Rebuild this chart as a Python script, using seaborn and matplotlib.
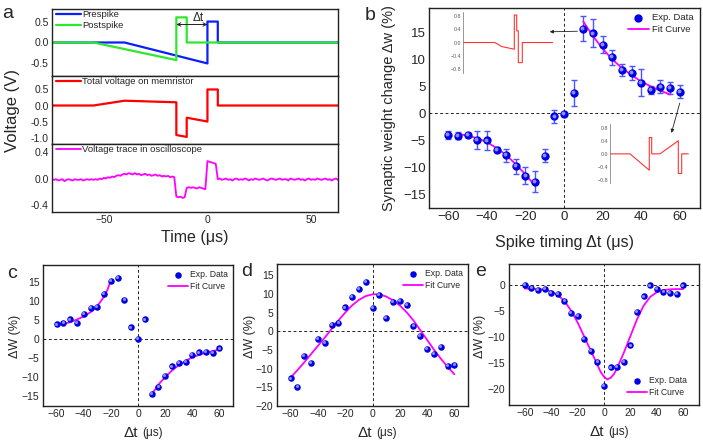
import numpy as np
import matplotlib
matplotlib.use("Agg")
import matplotlib.pyplot as plt
import matplotlib.transforms as mtransforms
from matplotlib.ticker import MultipleLocator, AutoMinorLocator
import seaborn as sns

# ---------------- panel a: pulse shapes ----------------
pre_t = [-75, -40, 0, 0, 5, 5, 63]
pre_v = [0, 0, -0.5, 0.5, 0.5, 0, 0]
post_t = [-75, -55, -15, -15, -10, -10, 63]
post_v = [0, 0, -0.42, 0.6, 0.6, 0, 0]
mem_t = [-75, -55, -40, -15, -15, -10, -10, 0, 0, 5, 5, 63]
mem_v = [0, 0, 0.15, 0.1, -0.92, -0.98, -0.38, -0.5, 0.5, 0.5, 0, 0]
scope_v = [-0.01, -0.02, -0.01, -0.03, -0.02, -0.01, -0.04, -0.02, -0.01, -0.02,
           -0.03, -0.01, -0.02, -0.02, -0.01, -0.03, -0.02, -0.01, -0.02, -0.01,
           -0.02, -0.01, -0.02, 0.0, -0.01, 0.01, 0.0, 0.02, 0.01, 0.03,
           0.02, 0.04, 0.05, 0.04, 0.06,
           0.07, 0.06, 0.08, 0.07, 0.06, 0.08, 0.06, 0.07, 0.05, 0.06,
           0.07, 0.05, 0.06, 0.04, 0.05, 0.06, 0.04, 0.05, 0.03, 0.04,
           0.03, 0.04, 0.02, 0.03, 0.02,
           -0.27, -0.28, -0.27, -0.29, -0.28,
           -0.14, -0.13, -0.14, -0.13, -0.14, -0.15, -0.13, -0.14, -0.15, -0.16,
           0.26, 0.25, 0.24, 0.23, 0.22,
           -0.01, 0.0, -0.02, -0.01, 0.0, -0.02, -0.01, -0.03, -0.01, 0.0,
           -0.02, -0.01, -0.02, 0.0, -0.01, -0.03, -0.01, -0.02, 0.0, -0.01,
           -0.02, -0.01, 0.0, -0.02, -0.03, -0.01, 0.0, -0.01, -0.02, -0.01,
           0.0, -0.02, -0.01, -0.01, -0.03, 0.0, -0.01, -0.02, -0.01, 0.0,
           -0.02, -0.01, -0.03, -0.01, 0.0, -0.02, -0.01, -0.02, 0.0, -0.01,
           -0.02, -0.01, 0.0, -0.02, -0.01, -0.03, -0.01, 0.0, -0.02]
scope_t = np.arange(-75, -75 + len(scope_v))

# ---------------- panel b: STDP with error bars ----------------
dt = [-60, -55, -50, -45, -40, -35, -30, -25, -20, -15, -10, -5, 0,
      5, 10, 15, 20, 25, 30, 35, 40, 45, 50, 55, 60]
b_dw = [-4.0, -4.1, -4.0, -4.9, -5.0, -6.7, -7.7, -9.75, -11.5, -12.6, -7.8, -0.55, -0.1,
        3.85, 15.7, 14.8, 12.7, 10.4, 8.0, 7.5, 5.7, 4.3, 4.9, 4.75, 4.0]
b_err = [0.7, 0.7, 0.45, 1.6, 1.75, 0.4, 1.2, 1.4, 1.5, 1.9, 1.2, 1.2, 0.3,
         2.4, 2.35, 2.6, 1.6, 1.4, 1.1, 1.3, 2.5, 0.7, 1.2, 1.1, 1.2]
b_fit_l_x = [-55, -50, -45, -40, -35, -30, -25, -20, -15]
b_fit_l_y = [-3.8, -4.1, -4.6, -5.3, -6.4, -7.7, -9.4, -11.3, -13.4]
b_fit_r_x = [10, 15, 20, 25, 30, 35, 40, 45, 50, 55]
b_fit_r_y = [17.0, 14.3, 12.0, 10.0, 8.4, 7.1, 5.9, 5.0, 4.2, 3.5]
ins1_x = [0, 32, 38.7, 51.3, 51.3, 53.7, 53.7, 55.3, 55.3, 59.3, 59.3, 90]
ins1_y = [0, 0, -0.12, -0.2, 0.82, 0.82, 0.35, 0.35, -0.6, -0.6, 0, 0]
ins2_x = [0, 20, 39.3, 39.3, 41.7, 41.7, 50, 68.3, 68.3, 71.7, 71.7, 78.3]
ins2_y = [0, 0, -0.5, 0.5, 0.5, 0, 0, 0.4, -0.6, -0.6, 0, 0]

# ---------------- panels c, d, e ----------------
c_dw = [3.9, 4.3, 5.2, 4.4, 6.75, 8.3, 8.4, 12.0, 15.3, 16.1, 10.3, 3.1, 0.2,
        5.2, -14.3, -12.5, -9.7, -7.1, -6.3, -6.0, -4.0, -3.45, -3.2, -3.5, -2.4]
c_fit_l_x = [-60, -55, -50, -45, -40, -35, -30, -25, -22.5, -20]
c_fit_l_y = [3.7, 4.0, 4.5, 5.2, 6.0, 7.1, 8.7, 11.2, 13.0, 15.5]
c_fit_r_x = [10, 15, 20, 25, 30, 35, 40, 45, 50, 55, 60]
c_fit_r_y = [-14.5, -11.9, -9.9, -8.2, -6.8, -5.7, -4.7, -4.1, -3.5, -3.1, -2.7]

d_dw = [-12.6, -15.0, -6.6, -8.5, -2.0, -3.1, 1.8, 2.3, 6.4, 9.3, 11.3, 13.3, 6.2,
        9.8, 3.5, 7.8, 8.2, 7.05, 1.4, -1.25, -4.8, -6.1, -4.3, -9.3, -9.0]
d_fit_y = [-12.4, -10.4, -8.3, -6.1, -3.9, -1.7, 0.6, 2.9, 5.0, 6.9, 8.4, 9.4, 9.9,
           9.9, 9.3, 8.3, 6.9, 5.1, 2.9, 0.3, -2.3, -4.9, -7.3, -9.5, -11.5]

e_dw = [0.0, -0.5, -0.95, -0.7, -1.6, -1.7, -3.0, -5.4, -6.0, -10.3, -12.6, -14.7, -19.4,
        -15.8, -15.75, -14.7, -11.6, -5.25, -2.2, -0.1, -0.8, -1.3, -1.6, -1.8, -0.1]
e_fit_x = [-60, -55, -50, -45, -40, -35, -30, -25, -20, -15, -10, -5, -2.5, 0,
           2.5, 5, 7.5, 10, 15, 20, 25, 30, 35, 40, 45, 50, 55, 60]
e_fit_y = [-0.7, -0.75, -0.8, -0.95, -1.25, -1.95, -3.1, -4.9, -7.2, -9.9, -12.6, -15.3, -16.7, -17.6,
           -18.1, -17.8, -17.1, -15.9, -13.0, -9.8, -6.6, -4.0, -2.3, -1.4, -1.0, -0.85, -0.8, -0.8]

BLUE = "#0a1eff"
GREEN = "#2ee82e"
RED = "#ff0000"
MAG = "#ff00ff"
DOT = "#0000e6"
FRAME = "#222222"

sns.set_theme(style="white")
plt.rcParams["font.family"] = ["Liberation Sans", "DejaVu Sans"]
plt.rcParams["axes.linewidth"] = 1.0

W, H = 703, 445
fig = plt.figure(figsize=(W / 100, H / 100), dpi=100)


def box(l, t, r, b):
    return [l / W, 1 - b / H, (r - l) / W, (b - t) / H]


def style(ax, fs, xmaj=None, ymaj=None):
    ax.tick_params(which="both", direction="in", top=False, right=False,
                   labelsize=fs, width=0.8, color=FRAME, pad=2.5)
    ax.tick_params(which="major", length=3.5)
    ax.tick_params(which="minor", length=2)
    if xmaj:
        ax.xaxis.set_major_locator(MultipleLocator(xmaj))
        ax.xaxis.set_minor_locator(AutoMinorLocator(2))
    if ymaj:
        ax.yaxis.set_major_locator(MultipleLocator(ymaj))
        ax.yaxis.set_minor_locator(AutoMinorLocator(2))
    for s in ax.spines.values():
        s.set_color(FRAME)
        s.set_linewidth(1.0)
    ax.set_xlabel("")
    ax.set_ylabel("")


def dots(ax, x, y, s):
    sns.scatterplot(x=x, y=y, ax=ax, s=s, color=DOT, linewidth=0, zorder=4,
                    label="Exp. Data")
    hl = mtransforms.offset_copy(ax.transData, fig=fig, x=-0.6, y=0.6, units="points")
    sns.scatterplot(x=x, y=y, ax=ax, s=s * 0.22, color="#8c8cff", linewidth=0,
                    zorder=5, transform=hl, legend=False)


def fit(ax, x, y, label=None):
    sns.lineplot(x=x, y=y, ax=ax, color=MAG, lw=1.3, sort=False,
                 estimator=None, label=label, zorder=3)


def zero_lines(ax):
    ax.axhline(0, color="#222222", lw=0.7, ls=(0, (3, 2.5)), zorder=1)
    ax.axvline(0, color="#222222", lw=0.7, ls=(0, (3, 2.5)), zorder=1)


def fit_legend(ax, fs, loc, anchor):
    h, l = ax.get_legend_handles_labels()
    order = [l.index("Exp. Data"), l.index("Fit Curve")]
    ax.legend([h[i] for i in order], [l[i] for i in order], loc=loc,
              bbox_to_anchor=anchor, frameon=False, fontsize=fs,
              handlelength=2.3, handletextpad=0.25, labelspacing=0.3,
              borderaxespad=0, borderpad=0)


# ---------------- panel a ----------------
ax_a1 = fig.add_axes(box(52, 9, 338, 76))
ax_a2 = fig.add_axes(box(52, 76, 338, 144))
ax_a3 = fig.add_axes(box(52, 144, 338, 212))

sns.lineplot(x=pre_t, y=pre_v, ax=ax_a1, color=BLUE, lw=1.6, sort=False,
             estimator=None, label="Prespike")
sns.lineplot(x=post_t, y=post_v, ax=ax_a1, color=GREEN, lw=1.6, sort=False,
             estimator=None, label="Postspike")
sns.lineplot(x=mem_t, y=mem_v, ax=ax_a2, color=RED, lw=1.6, sort=False,
             estimator=None, label="Total voltage on memristor")
sns.lineplot(x=scope_t, y=scope_v, ax=ax_a3, color=MAG, lw=1.3, sort=False,
             estimator=None, label="Voltage trace in oscilloscope")

ax_a1.set_ylim(-0.8, 0.8)
ax_a2.set_ylim(-1.2, 0.92)
ax_a3.set_ylim(-0.5, 0.515)
for ax, ymaj in [(ax_a1, 0.5), (ax_a2, 0.5), (ax_a3, 0.4)]:
    ax.set_xlim(-75, 63)
    style(ax, 7.5, 50, ymaj)
    ax.yaxis.set_major_formatter(plt.FuncFormatter(lambda v, p: f"{v:.1f}"))
    ax.legend(loc="upper left", bbox_to_anchor=(0.015, 0.98), frameon=False,
              fontsize=6.8, handlelength=2.6, handletextpad=0.15,
              labelspacing=0.2, borderaxespad=0, borderpad=0)
for ax in (ax_a1, ax_a2):
    ax.tick_params(axis="x", which="both", bottom=False, labelbottom=False)
ax_a1.annotate("", xy=(0, 0.43), xytext=(-15, 0.43),
               arrowprops=dict(arrowstyle="<->", lw=0.7, color="#222222",
                               shrinkA=0, shrinkB=0, mutation_scale=6))
ax_a1.text(-4.5, 0.58, "Δt", fontsize=8.5, ha="center", va="center")
ax_a3.set_xlabel("Time (μs)", fontsize=11.5, labelpad=3)
fig.text(13 / W, 1 - 110 / H, "Voltage (V)", rotation=90, fontsize=12,
         ha="center", va="center")

# ---------------- panel b ----------------
ax_b = fig.add_axes(box(429, 8, 700, 208))
zero_lines(ax_b)
ax_b.errorbar(dt, b_dw, yerr=b_err, fmt="none", ecolor="#4c55ff", elinewidth=1.0,
              capsize=2.2, capthick=1.0, zorder=3)
dots(ax_b, dt, b_dw, 36)
fit(ax_b, b_fit_l_x, b_fit_l_y, "Fit Curve")
fit(ax_b, b_fit_r_x, b_fit_r_y)
ax_b.set_xlim(-70, 70.5)
ax_b.set_ylim(-17.5, 19.5)
style(ax_b, 9.5, 20, 5)
fit_legend(ax_b, 6.8, "upper right", (0.975, 0.975))
ax_b.set_xlabel("Spike timing Δt (μs)", fontsize=11.5, labelpad=8)
fig.text(389 / W, 1 - 108 / H, "Synaptic weight change Δw (%)", rotation=90,
         fontsize=10.5, ha="center", va="center")
ax_b.annotate("", xy=(-7.4, 15.1), xytext=(7, 15.2),
              arrowprops=dict(arrowstyle="-|>", lw=0.6, color="#222222",
                              shrinkA=0, shrinkB=0, mutation_scale=5))
ax_b.annotate("", xy=(55.7, -3.6), xytext=(60, 1.9),
              arrowprops=dict(arrowstyle="-|>", lw=0.6, color="#222222",
                              shrinkA=0, shrinkB=0, mutation_scale=5))

for (l, t, r, b), xs, ys, xr in [((463, 12.35, 553, 72.7), ins1_x, ins1_y, 90),
                                 ((610, 124.4, 690, 183.3), ins2_x, ins2_y, 80)]:
    ins = fig.add_axes(box(l, t, r, b))
    ins.patch.set_visible(False)
    sns.lineplot(x=xs, y=ys, ax=ins, color="#ff3333", lw=0.8, sort=False,
                 estimator=None)
    ins.set_xlim(0, xr)
    ins.set_ylim(-0.9, 0.9)
    for side in ("top", "right", "bottom"):
        ins.spines[side].set_visible(False)
    ins.spines["left"].set_color("#888888")
    ins.spines["left"].set_linewidth(0.6)
    ins.set_yticks([-0.8, -0.4, 0.0, 0.4, 0.8])
    ins.set_xticks([])
    ins.tick_params(axis="y", direction="in", length=1.5, width=0.5,
                    labelsize=3.8, pad=1.5, colors="#555555")
    ins.set_xlabel("")
    ins.set_ylabel("")

# ---------------- panels c, d, e ----------------
ax_c = fig.add_axes(box(43, 265, 233, 406))
ax_d = fig.add_axes(box(277, 264, 468, 406))
ax_e = fig.add_axes(box(509, 264, 699, 405))

zero_lines(ax_c)
dots(ax_c, dt, c_dw, 22)
fit(ax_c, c_fit_l_x, c_fit_l_y, "Fit Curve")
fit(ax_c, c_fit_r_x, c_fit_r_y)
ax_c.set_xlim(-70, 70)
ax_c.set_ylim(-17.5, 19.5)

zero_lines(ax_d)
dots(ax_d, dt, d_dw, 22)
fit(ax_d, dt, d_fit_y, "Fit Curve")
ax_d.set_xlim(-70, 70)
ax_d.set_ylim(-20, 18)

zero_lines(ax_e)
dots(ax_e, dt, e_dw, 22)
fit(ax_e, e_fit_x, e_fit_y, "Fit Curve")
ax_e.set_xlim(-72, 72)
ax_e.set_ylim(-23, 4)

for ax, cx in [(ax_c, 15), (ax_d, 250), (ax_e, 480)]:
    style(ax, 7.5, 20, 5)
    fig.text(cx / W, 1 - 336 / H, "ΔW (%)", rotation=90, fontsize=9,
             ha="center", va="center")
    ax.text(0.5, -0.19, "Δt", transform=ax.transAxes, fontsize=11,
            ha="right", va="center")
    ax.text(0.52, -0.19, "(μs)", transform=ax.transAxes, fontsize=8.5,
            ha="left", va="center")

fit_legend(ax_c, 6.2, "upper right", (0.975, 0.965))
fit_legend(ax_d, 6.2, "upper right", (0.975, 0.965))
fit_legend(ax_e, 6.2, "lower right", (0.935, 0.06))

# panel letters
for ch, x, y in [("a", 8, 14), ("b", 370, 16), ("c", 12, 273), ("d", 247, 271),
                 ("e", 481, 272)]:
    fig.text(x / W, 1 - y / H, ch, fontsize=14, ha="center", va="center")

fig.savefig("out.png", dpi=100)
